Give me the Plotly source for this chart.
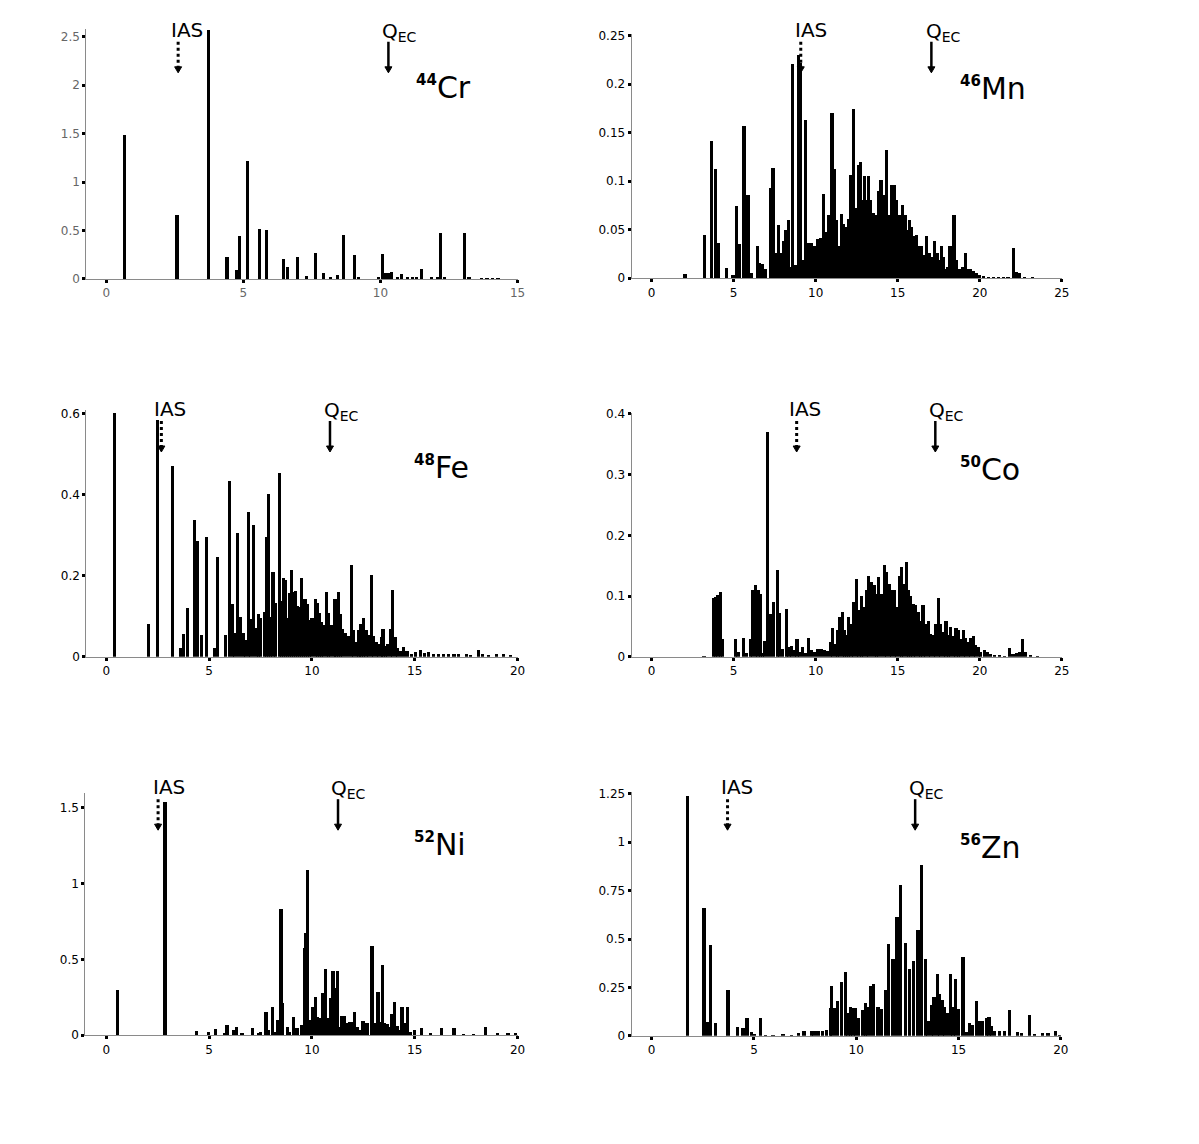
import plotly.graph_objects as go

# ---- DATA: B(GT) strength vs excitation energy (MeV) ---- #
cr_e = [0.68, 2.59, 3.74, 4.41, 4.77, 4.87, 5.16, 5.59, 5.86, 6.48, 6.63, 6.98, 7.32, 7.65, 7.92,
        8.20, 8.43, 8.65, 9.06, 9.22, 9.93, 10.09, 10.19, 10.29, 10.41, 10.62, 10.78, 10.99, 11.17,
        11.32, 11.50, 11.88, 12.08, 12.19, 12.36, 13.07, 13.24, 13.7, 13.9, 14.1, 14.3]
cr_b = [1.49, 0.66, 2.57, 0.23, 0.086, 0.44, 1.22, 0.51, 0.50, 0.20, 0.12, 0.23, 0.034, 0.27, 0.058,
        0.02, 0.04, 0.45, 0.25, 0.017, 0.014, 0.26, 0.065, 0.062, 0.075, 0.014, 0.052, 0.014, 0.017,
        0.024, 0.10, 0.024, 0.017, 0.47, 0.01, 0.47, 0.024, 0.005, 0.005, 0.005, 0.005]

mn_e = [2.01, 3.21, 3.64, 3.88, 4.04, 4.55, 4.94, 5.14, 5.30, 5.61, 5.85, 6.08, 6.42, 6.57, 6.73,
        6.89, 7.2, 7.37, 7.54, 7.71, 7.85, 8.0, 8.17, 8.33, 8.47, 8.58, 8.77, 8.94, 9.02, 9.14,
        9.35, 9.5, 9.7, 9.9, 10.1, 10.3, 10.46, 10.6, 10.76, 10.88, 10.97, 11.1, 11.25, 11.4,
        11.53, 11.67, 11.82, 11.97, 12.12, 12.28, 12.42, 12.57, 12.7, 12.82, 12.94, 13.07, 13.2,
        13.33, 13.47, 13.62, 13.8, 13.95, 14.09, 14.29, 14.45, 14.58, 14.75, 14.92, 15.08, 15.28,
        15.43, 15.55, 15.69, 15.83, 15.98, 16.14, 16.3, 16.44, 16.58, 16.74, 16.9, 17.06, 17.22,
        17.37, 17.5, 17.63, 17.77, 17.91, 18.03, 18.16, 18.29, 18.4, 18.52, 18.64, 18.78, 18.91,
        19.09, 19.22, 19.38, 19.58, 19.78, 19.98, 20.2, 20.5, 20.8, 21.1, 21.4, 21.7, 22.01, 22.2,
        22.4, 22.7, 23.2]
mn_b = [0.0045, 0.045, 0.141, 0.112, 0.036, 0.011, 0.003, 0.074, 0.035, 0.157, 0.086, 0.005, 0.033,
        0.016, 0.015, 0.01, 0.093, 0.114, 0.026, 0.055, 0.026, 0.038, 0.05, 0.06, 0.012, 0.221,
        0.014, 0.230, 0.222, 0.019, 0.163, 0.036, 0.036, 0.033, 0.04, 0.041, 0.087, 0.048, 0.065,
        0.033, 0.17, 0.112, 0.06, 0.033, 0.066, 0.056, 0.053, 0.061, 0.106, 0.174, 0.072, 0.117,
        0.12, 0.081, 0.105, 0.081, 0.105, 0.081, 0.067, 0.065, 0.09, 0.101, 0.086, 0.132, 0.065,
        0.096, 0.096, 0.081, 0.065, 0.075, 0.065, 0.05, 0.06, 0.053, 0.043, 0.045, 0.033, 0.033,
        0.024, 0.043, 0.026, 0.022, 0.038, 0.026, 0.019, 0.033, 0.022, 0.01, 0.012, 0.033, 0.033,
        0.065, 0.019, 0.01, 0.01, 0.012, 0.026, 0.01, 0.01, 0.007, 0.005, 0.003, 0.002, 0.0015,
        0.001, 0.001, 0.001, 0.001, 0.031, 0.006, 0.005, 0.001, 0.0008]

fe_e = [0.41, 2.08, 2.5, 3.25, 3.64, 3.77, 3.98, 4.29, 4.45, 4.63, 4.9, 5.28, 5.44, 5.81, 6.02, 6.17,
        6.25, 6.4, 6.53, 6.69, 6.77, 6.93, 7.03, 7.18, 7.31, 7.42, 7.53, 7.71, 7.82, 7.91, 8.02,
        8.12, 8.25, 8.43, 8.52, 8.64, 8.73, 8.83, 8.93, 9.03, 9.12, 9.22, 9.32, 9.42, 9.51, 9.61,
        9.71, 9.81, 9.9, 10.02, 10.19, 10.29, 10.39, 10.5, 10.58, 10.71, 10.83, 10.94, 11.1, 11.19,
        11.3, 11.4, 11.51, 11.66, 11.8, 11.93, 12.05, 12.18, 12.31, 12.4, 12.53, 12.65, 12.78,
        12.91, 13.02, 13.15, 13.26, 13.38, 13.47, 13.59, 13.7, 13.83, 13.94, 14.07, 14.19, 14.32,
        14.48, 14.64, 14.85, 15.05, 15.29, 15.49, 15.7, 15.94, 16.18, 16.43, 16.67, 16.92, 17.16,
        17.52, 17.73, 18.1, 18.3, 18.62, 18.99, 19.35, 19.68]
fe_b = [0.603, 0.081, 0.585, 0.472, 0.022, 0.056, 0.12, 0.338, 0.286, 0.055, 0.297, 0.022, 0.246,
        0.054, 0.435, 0.13, 0.058, 0.307, 0.099, 0.059, 0.041, 0.359, 0.093, 0.326, 0.072, 0.107,
        0.097, 0.11, 0.297, 0.402, 0.099, 0.21, 0.132, 0.455, 0.138, 0.196, 0.191, 0.095, 0.159,
        0.214, 0.161, 0.162, 0.125, 0.124, 0.195, 0.142, 0.144, 0.13, 0.091, 0.096, 0.144, 0.132,
        0.109, 0.087, 0.078, 0.161, 0.109, 0.08, 0.142, 0.144, 0.161, 0.107, 0.07, 0.058, 0.051,
        0.227, 0.066, 0.037, 0.066, 0.082, 0.095, 0.066, 0.055, 0.202, 0.051, 0.037, 0.031, 0.049,
        0.07, 0.026, 0.033, 0.07, 0.165, 0.049, 0.021, 0.014, 0.025, 0.014, 0.008, 0.011, 0.018,
        0.01, 0.011, 0.008, 0.007, 0.007, 0.007, 0.007, 0.006, 0.008, 0.004, 0.016, 0.006, 0.004,
        0.008, 0.007, 0.003]

co_e = [3.17, 3.76, 3.88, 4.02, 4.15, 4.29, 5.08, 5.24, 5.59, 5.75, 6.02, 6.14, 6.30, 6.46, 6.61,
        6.73, 6.87, 7.05, 7.22, 7.42, 7.64, 7.78, 7.95, 8.19, 8.35, 8.5, 8.66, 8.84, 9.0, 9.19, 9.37,
        9.55, 9.72, 9.92, 10.12, 10.33, 10.53, 10.69, 10.87, 11.02, 11.16, 11.3, 11.44, 11.59,
        11.71, 11.85, 11.99, 12.13, 12.3, 12.46, 12.62, 12.76, 12.9, 13.05, 13.21, 13.37, 13.54,
        13.68, 13.82, 13.98, 14.15, 14.31, 14.45, 14.59, 14.76, 14.92, 15.06, 15.2, 15.35, 15.49,
        15.63, 15.77, 15.91, 16.06, 16.22, 16.38, 16.52, 16.67, 16.83, 16.99, 17.13, 17.3, 17.44,
        17.58, 17.74, 17.91, 18.05, 18.21, 18.35, 18.52, 18.66, 18.82, 18.96, 19.11, 19.27, 19.41,
        19.57, 19.72, 19.88, 20.04, 20.24, 20.45, 20.65, 20.89, 21.2, 21.5, 21.77, 22.0, 22.2,
        22.38, 22.6, 22.76, 23.09, 23.5]
co_b = [0.001, 0.098, 0.099, 0.103, 0.107, 0.029, 0.03, 0.008, 0.032, 0.007, 0.03, 0.111, 0.118,
        0.11, 0.104, 0.007, 0.026, 0.37, 0.071, 0.09, 0.143, 0.073, 0.014, 0.079, 0.016, 0.018,
        0.012, 0.03, 0.008, 0.016, 0.007, 0.031, 0.012, 0.009, 0.014, 0.013, 0.011, 0.01, 0.025,
        0.047, 0.022, 0.044, 0.066, 0.074, 0.044, 0.037, 0.066, 0.055, 0.09, 0.129, 0.077, 0.1,
        0.082, 0.11, 0.134, 0.124, 0.118, 0.104, 0.132, 0.104, 0.151, 0.14, 0.121, 0.11, 0.11,
        0.082, 0.133, 0.148, 0.121, 0.157, 0.11, 0.1, 0.088, 0.085, 0.074, 0.06, 0.085, 0.055, 0.06,
        0.038, 0.036, 0.055, 0.098, 0.055, 0.041, 0.059, 0.036, 0.05, 0.034, 0.048, 0.045, 0.029,
        0.044, 0.031, 0.025, 0.032, 0.034, 0.019, 0.016, 0.008, 0.012, 0.008, 0.005, 0.004, 0.003,
        0.002, 0.015, 0.005, 0.007, 0.008, 0.029, 0.008, 0.004, 0.001]

ni_e = [0.55, 2.87, 4.42, 4.98, 5.34, 5.75, 5.89, 6.2, 6.33, 6.61, 7.14, 7.42, 7.53, 7.78, 7.91, 8.1,
        8.21, 8.36, 8.51, 8.6, 8.83, 8.93, 9.12, 9.29, 9.53, 9.66, 9.72, 9.81, 9.94, 10.05, 10.18,
        10.26, 10.39, 10.55, 10.67, 10.8, 10.91, 11.04, 11.15, 11.27, 11.36, 11.48, 11.59, 11.72,
        11.85, 11.96, 12.08, 12.21, 12.34, 12.5, 12.61, 12.73, 12.94, 13.05, 13.23, 13.33, 13.43,
        13.54, 13.67, 13.8, 13.91, 14.04, 14.16, 14.29, 14.4, 14.53, 14.66, 14.81, 15.02, 15.34,
        15.78, 16.31, 16.92, 17.4, 17.89, 18.46, 19.03, 19.55, 19.92]
ni_b = [0.30, 1.537, 0.026, 0.022, 0.04, 0.011, 0.066, 0.037, 0.055, 0.011, 0.044, 0.015, 0.02,
        0.154, 0.033, 0.187, 0.022, 0.099, 0.828, 0.213, 0.055, 0.022, 0.121, 0.044, 0.066, 0.575,
        0.674, 1.087, 0.099, 0.182, 0.253, 0.121, 0.11, 0.279, 0.433, 0.11, 0.242, 0.422, 0.307,
        0.422, 0.055, 0.125, 0.125, 0.081, 0.088, 0.088, 0.154, 0.055, 0.037, 0.092, 0.081, 0.077,
        0.586, 0.077, 0.286, 0.088, 0.461, 0.077, 0.07, 0.055, 0.136, 0.22, 0.059, 0.037, 0.182,
        0.077, 0.187, 0.022, 0.037, 0.05, 0.011, 0.05, 0.05, 0.007, 0.007, 0.055, 0.011, 0.015,
        0.011]

zn_e = [1.73, 2.54, 2.7, 2.87, 3.11, 3.71, 4.17, 4.45, 4.64, 4.85, 5.02, 5.29, 5.54, 5.91, 6.4, 6.81,
        7.17, 7.43, 7.78, 7.92, 8.11, 8.32, 8.52, 8.71, 8.79, 8.93, 9.06, 9.25, 9.45, 9.58, 9.71,
        9.82, 9.95, 10.11, 10.31, 10.44, 10.55, 10.67, 10.83, 11.04, 11.21, 11.42, 11.56, 11.78,
        11.97, 12.15, 12.38, 12.59, 12.77, 13.0, 13.16, 13.37, 13.49, 13.65, 13.78, 13.94, 14.06,
        14.19, 14.3, 14.43, 14.59, 14.71, 14.82, 14.98, 15.2, 15.36, 15.52, 15.68, 15.85, 16.01,
        16.17, 16.34, 16.47, 16.58, 16.74, 16.99, 17.23, 17.48, 17.85, 18.05, 18.45, 18.7, 19.1,
        19.35, 19.72, 19.92]
zn_b = [1.24, 0.664, 0.072, 0.472, 0.067, 0.24, 0.05, 0.043, 0.093, 0.021, 0.012, 0.095, 0.007,
        0.007, 0.012, 0.007, 0.017, 0.026, 0.029, 0.026, 0.026, 0.029, 0.033, 0.147, 0.262, 0.147,
        0.181, 0.279, 0.331, 0.119, 0.15, 0.147, 0.145, 0.095, 0.136, 0.172, 0.153, 0.262, 0.271,
        0.153, 0.141, 0.24, 0.478, 0.397, 0.616, 0.783, 0.481, 0.348, 0.391, 0.55, 0.883, 0.397,
        0.078, 0.159, 0.205, 0.322, 0.216, 0.188, 0.153, 0.119, 0.322, 0.153, 0.297, 0.141, 0.409,
        0.021, 0.067, 0.06, 0.184, 0.078, 0.078, 0.095, 0.098, 0.055, 0.026, 0.026, 0.026, 0.138,
        0.024, 0.017, 0.11, 0.012, 0.016, 0.016, 0.026, 0.007]

energies = [cr_e, mn_e, fe_e, co_e, ni_e, zn_e]
strengths = [cr_b, mn_b, fe_b, co_b, ni_b, zn_b]

# ---- LABELS ---- #
masses = ["44", "46", "48", "50", "52", "56"]
elements = ["Cr", "Mn", "Fe", "Co", "Ni", "Zn"]
ias_e = [2.62, 9.09, 2.68, 8.84, 2.52, 3.71]
qec_e = [10.29, 17.05, 10.88, 17.29, 11.27, 12.88]

x_ticks = [[0, 5, 10, 15], [0, 5, 10, 15, 20, 25], [0, 5, 10, 15, 20],
           [0, 5, 10, 15, 20, 25], [0, 5, 10, 15, 20], [0, 5, 10, 15, 20]]
y_ticks = [[0, 0.5, 1, 1.5, 2, 2.5], [0, 0.05, 0.1, 0.15, 0.2, 0.25], [0, 0.2, 0.4, 0.6],
           [0, 0.1, 0.2, 0.3, 0.4], [0, 0.5, 1, 1.5], [0, 0.25, 0.5, 0.75, 1, 1.25]]
y_labels = [["0", "0.5", "1", "1.5", "2", "2.5"], ["0", "0.05", "0.1", "0.15", "0.2", "0.25"],
            ["0", "0.2", "0.4", "0.6"], ["0", "0.1", "0.2", "0.3", "0.4"],
            ["0", "0.5", "1", "1.5"], ["0", "0.25", "0.5", "0.75", "1", "1.25"]]

# ---- PANEL GEOMETRY (target pixels in the picture) ---- #
PAD = 8                      # default body margin of the html page
W, H = 1199 - 2 * PAD, 1144 - 2 * PAD
SX, OX = 0.9927, -0.2        # picture = S * page + O, measured from a previous render
SY, OY = 0.988, 6.3
# left, right, top, bottom, x range, y range
panels = [
    (86, 517, 29.3, 279.0, [-0.73, 15], [0, 2.58]),
    (631, 1061, 34.2, 278.3, [-1.22, 25], [0, 0.2515]),
    (86, 517, 409.9, 656.7, [-0.97, 20], [0, 0.61]),
    (631, 1061, 412.8, 656.7, [-1.22, 25], [0, 0.402]),
    (85, 517, 793.0, 1035.0, [-1.02, 20], [0, 1.594]),
    (631, 1060, 791.4, 1035.5, [-0.98, 20], [0, 1.262]),
]
ias_txt = [(186.5, 30), (810, 30), (170, 409), (804.5, 409), (168.5, 787), (736.5, 787)]
qec_txt = [(399, 32), (943, 32), (341, 411), (946, 411), (348.5, 789), (926, 789)]
arrow_y = [(42, 73), (42, 73), (421, 452), (421, 452), (799, 830), (799, 830)]
iso_pos = [(414, 88), (957, 89), (412, 467), (957, 469), (412, 844), (957, 847)]


def px(x):
    return ((x - OX) / SX - PAD) / W


def py(y):
    return 1 - ((y - OY) / SY - PAD) / H


fig = go.Figure()
font = "DejaVu Sans"

for i in range(6):
    left, right, top, bottom, xr, yr = panels[i]
    n = "" if i == 0 else str(i + 1)
    xa, ya = "x" + n, "y" + n
    ppu = (right - left) / (xr[1] - xr[0])

    fig.add_trace(go.Bar(
        x=energies[i], y=strengths[i], width=3.2 / ppu,
        marker=dict(color="black", line=dict(width=0)),
        xaxis=xa, yaxis=ya, showlegend=False
    ))

    tick_color = "#666666" if i == 0 else "black"
    common = dict(showgrid=False, zeroline=False, showline=True, linecolor="#8a8a8a", linewidth=1,
                  ticks="outside", ticklen=3, tickwidth=3, tickcolor="black",
                  tickfont=dict(family=font, size=12, color=tick_color))
    fig.update_layout(**{
        "xaxis" + n: dict(domain=[px(left), px(right)], range=xr, anchor=ya,
                          tickvals=x_ticks[i], ticktext=[str(v) for v in x_ticks[i]], **common),
        "yaxis" + n: dict(domain=[py(bottom), py(top)], range=yr, anchor=xa,
                          tickvals=y_ticks[i], ticktext=y_labels[i], **common),
    })

    # arrows: IAS dotted, Q_EC solid, small triangular heads
    y0, y1 = arrow_y[i]
    hw = 3.5 / ppu
    for e, dash, lw in [(ias_e[i], "dot", 3), (qec_e[i], "solid", 2.5)]:
        fig.add_shape(type="line", xref=xa, yref="paper", x0=e, x1=e,
                      y0=py(y0), y1=py(y1 - 5), line=dict(color="black", width=lw, dash=dash))
        fig.add_shape(type="path", xref=xa, yref="paper",
                      path=f"M {e - hw},{py(y1 - 6)} L {e + hw},{py(y1 - 6)} L {e},{py(y1)} Z",
                      fillcolor="black", line=dict(color="black", width=1))

    fig.add_annotation(x=px(ias_txt[i][0]), y=py(ias_txt[i][1]), xref="paper", yref="paper",
                       xanchor="center", yanchor="middle", text="IAS", showarrow=False,
                       font=dict(family=font, size=20, color="black"))
    fig.add_annotation(x=px(qec_txt[i][0]), y=py(qec_txt[i][1]), xref="paper", yref="paper",
                       xanchor="center", yanchor="middle", text="Q<sub>EC</sub>", showarrow=False,
                       font=dict(family=font, size=20, color="black"))

    sx, sy = iso_pos[i]
    fig.add_annotation(x=px(sx), y=py(sy), xref="paper", yref="paper",
                       xanchor="left", yanchor="middle", showarrow=False,
                       text="<sup><span style='font-size:15px'><b>" + masses[i] + "</b></span></sup>"
                            + elements[i],
                       font=dict(family=font, size=30, color="black"))

fig.update_layout(
    width=W, height=H,
    margin=dict(l=0, r=0, t=0, b=0),
    paper_bgcolor="white", plot_bgcolor="white",
    bargap=0,
)

fig.write_html("out.html")
